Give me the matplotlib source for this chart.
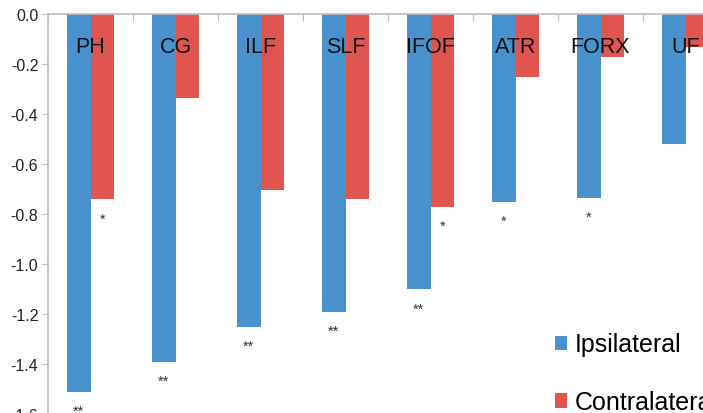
"""Grouped bar chart: ipsilateral vs contralateral change per tract."""

import matplotlib

matplotlib.use("Agg")
import matplotlib.pyplot as plt  # noqa: E402
import numpy as np  # noqa: E402

plt.rcParams["font.family"] = ["Liberation Sans", "DejaVu Sans"]
plt.rcParams["axes.unicode_minus"] = False

tracts = ["PH", "CG", "ILF", "SLF", "IFOF", "ATR", "FORX", "UF"]
ipsilateral = [-1.51, -1.39, -1.25, -1.19, -1.10, -0.75, -0.735, -0.52]
contralateral = [-0.74, -0.335, -0.705, -0.74, -0.77, -0.25, -0.17, -0.13]
ipsi_sig = ["**", "**", "**", "**", "**", "*", "*", ""]
contra_sig = ["*", "", "", "", "*", "", "", ""]
yticks = [0.0, -0.2, -0.4, -0.6, -0.8, -1.0, -1.2, -1.4, -1.6]

BLUE = "#4A92CE"
RED = "#E0554F"
GRID = "#BEBEBE"

fig = plt.figure(figsize=(7.03, 4.14), dpi=100)
# axes runs past the right edge, like the cropped original
ax = fig.add_axes([48 / 703, -1 / 414, 680 / 703, 400 / 414])

x = np.arange(len(tracts))
w = 0.282
b1 = ax.bar(x - w / 2, ipsilateral, w, color=BLUE, label="Ipsilateral")
b2 = ax.bar(x + w / 2, contralateral, w, color=RED, label="Contralateral")

for xi, v, s in zip(x, ipsilateral, ipsi_sig):
    if s:
        ax.annotate(s, (xi - w / 2, v), xytext=(0, -9), textcoords="offset points",
                    ha="center", va="top", fontsize=10.5, color="#333333")
for xi, v, s in zip(x, contralateral, contra_sig):
    if s:
        ax.annotate(s, (xi + w / 2, v), xytext=(0, -9), textcoords="offset points",
                    ha="center", va="top", fontsize=10.5, color="#333333")

for xi, name in zip(x, tracts):
    ax.text(xi, -0.13, name, ha="center", va="center", fontsize=15.5, color="#111111")

ax.set_xlim(-0.5, len(tracts) - 0.5)
ax.set_ylim(-1.6, 0)
ax.set_yticks(yticks)
ax.set_yticklabels([f"{t:.1f}" if t != 0 else "0.0" for t in yticks],
                   fontsize=11.5, color="#222222")
ax.tick_params(axis="y", length=4, color=GRID, pad=3)

ax.xaxis.tick_top()
ax.set_xticks(np.arange(len(tracts) + 1) - 0.5)
ax.set_xticklabels([])
ax.tick_params(axis="x", direction="in", length=5, color=GRID)

for side in ("right", "bottom"):
    ax.spines[side].set_visible(False)
for side in ("left", "top"):
    ax.spines[side].set_color(GRID)
    ax.spines[side].set_linewidth(1.2)

fig.legend(handles=[b1, b2], loc="upper left", bbox_to_anchor=(542 / 703, 1 - 321 / 414),
           frameon=False, fontsize=18, handlelength=0.5, handleheight=0.5,
           handletextpad=0.3, labelspacing=1.35, borderpad=0)

fig.savefig("out.png", dpi=100)
plt.close(fig)
